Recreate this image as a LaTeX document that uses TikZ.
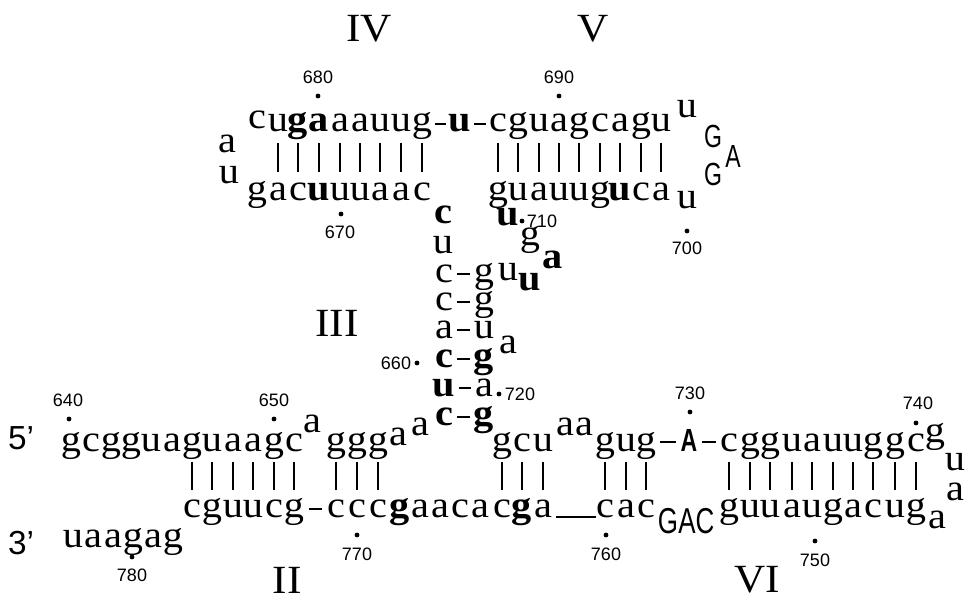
\documentclass[tikz,border=0pt]{standalone}
\usepackage{fontspec}
\setmainfont[FakeStretch=1.08]{Liberation Serif}
\newfontfamily\numfont{Liberation Sans}
\newfontfamily\condfont[FakeStretch=0.72]{Liberation Sans}
\usetikzlibrary{calc}
\tikzset{
  nt/.style={inner sep=0pt, anchor=base, font=\fontsize{28}{30}\selectfont},
  bt/.style={inner sep=0pt, anchor=base, font=\fontsize{28}{30}\selectfont\bfseries},
  capl/.style={inner sep=0pt, anchor=base, font=\fontsize{24}{26}\selectfont\condfont},
  capbig/.style={inner sep=0pt, anchor=base, font=\fontsize{27}{29}\selectfont\condfont},
  num/.style={inner sep=0pt, font=\fontsize{13.5}{15}\selectfont\numfont},
  endlabel/.style={inner sep=0pt, font=\fontsize{25}{27}\selectfont\numfont},
  roman/.style={inner sep=0pt, font=\fontsize{30}{34}\selectfont},
  posdot/.style={circle, fill=black, inner sep=0pt, minimum size=3.6pt},
  bar/.style={line width=0.9pt},
  pairdash/.style={line width=0.8pt},
  hyph/.style={line width=1.8pt},
}
\begin{document}
\begin{tikzpicture}[x=0.75pt, y=-0.75pt]
\useasboundingbox (0,0) rectangle (965,603);

% ---------- stem labels ----------
\node[roman] (IV) at (369,29) {IV};
\node[roman] (V) at (593,29) {V};
\node[roman] (III) at (337,323) {III};
\node[roman] (II) at (287,580) {II};
\node[roman] (VI) at (757,580) {VI};

% ---------- helix IV ----------
\node[nt] (a0) at (257,128) {c};
\foreach \x/\c [count=\i] in {278/u,298/{\bfseries g},319/{\bfseries a},340/a,360/a,380/u,401/u,422/g}
  \node[nt] (a\i) at (\x,131) {\c};
\node[nt] (b0) at (257,200) {g};
\foreach \x/\c [count=\i] in {278/a,298/c,319/{\bfseries u},340/u,360/u,380/a,401/a,422/c}
  \node[nt] (b\i) at (\x,200) {\c};
\foreach \i in {1,...,8}
  \draw[bar] ($(a\i.base)+(0,12)$) -- ($(b\i.base)+(0,-28)$);
\node[nt] (ll1) at (227,152) {a};
\node[nt] (ll2) at (229,183) {u};

% junction between IV and V
\node[bt] (um) at (460,131) {u};
\draw[hyph] ($(a8.base east)+(3,-7)$) -- ($(um.base west)+(-3,-7)$);

% ---------- helix V ----------
\foreach \x/\c [count=\i] in {498/c,518/g,539/u,559/a,579/g,600/c,620/a,641/g,661/u}
  \node[nt] (v\i) at (\x,131) {\c};
\foreach \x/\c [count=\i] in {498/g,518/u,539/a,559/u,579/u,600/g,620/{\bfseries u},641/c,661/a}
  \node[nt] (w\i) at (\x,200) {\c};
\foreach \i in {1,...,9}
  \draw[bar] ($(v\i.base)+(0,12)$) -- ($(w\i.base)+(0,-28)$);
\draw[hyph] ($(um.base east)+(3,-7)$) -- ($(v1.base west)+(-3,-7)$);

% hairpin loop of V
\node[nt] (lr1) at (687,117) {u};
\node[capl] (lr2) at (713,147) {G};
\node[capl] (lr3) at (733,167) {A};
\node[capl] (lr4) at (713,185) {G};
\node[nt] (lr5) at (687,208) {u};

% ---------- helix III ----------
\node[bt] (s0) at (443,223) {c};
\node[nt] (s1) at (443,253) {u};
\foreach \y/\l/\r [count=\i] in {282/c/g,310/c/g,338/a/u,367/{\bfseries c}/{\bfseries g},396/{\bfseries u}/a,425/{\bfseries c}/{\bfseries g}}{
  \node[nt] (L\i) at (444,\y) {\l};
  \node[nt] (R\i) at (484,\y) {\r};
  \draw[pairdash] ($(L\i.base east)+(4,-8)$) -- ($(R\i.base west)+(-4,-8)$);
}
\node[nt] (q5) at (508,280) {u};
\node[bt] (q4) at (530,290) {u};
\node[bt] (q3) at (553,268) {a};
\node[nt] (q2) at (530,245) {g};
\node[bt] (q1) at (508,225) {u};
\node[nt] (q6) at (508,353) {a};

% ---------- helices II and VI: upper strand ----------
\foreach \x/\c [count=\i] in {71/g,91/c,111/g,131/g,151/u,172/a}
  \node[nt] (e\i) at (\x,451) {\c};
\foreach \x/\c [count=\i] in {192/g,212/u,233/a,253/a,274/g,294/c,336/g,357/g,378/g,502/g,522/c,543/u,605/g,626/u,646/g,729/c,750/g,770/g,792/u,812/a,833/u,853/u,873/g,895/g,916/c}
  \node[nt] (p\i) at (\x,451) {\c};
\node[nt] (ea) at (312,432) {a};
\node[nt] (ex1) at (398,445) {a};
\node[nt] (ex2) at (420,435) {a};
\node[nt] (ey1) at (565,435) {a};
\node[nt] (ey2) at (584,435) {a};
\node[capl, font=\fontsize{24}{26}\selectfont\condfont\bfseries] (bA) at (689,451) {A};
\draw[pairdash] ($(p15.base east)+(4,-9)$) -- ($(bA.base west)+(-4,-9)$);
\draw[pairdash] ($(bA.base east)+(4,-9)$) -- ($(p16.base west)+(-4,-9)$);
% hairpin loop of VI
\node[nt] (lv1) at (935,442) {g};
\node[nt] (lv2) at (955,470) {u};
\node[nt] (lv3) at (955,500) {a};
\node[nt] (lv4) at (937,528) {a};

% ---------- lower strand ----------
\foreach \x/\c [count=\i] in {192/c,212/g,233/u,253/u,274/c,294/g,336/c,357/c,378/c,502/c,522/{\bfseries g},543/a,605/c,626/a,646/c,729/g,750/u,770/u,792/a,812/u,833/g,853/a,873/c,895/u,916/g}
  \node[nt] (f\i) at (\x,517) {\c};
\foreach \x/\c [count=\i] in {400/{\bfseries g},420/a,440/a,460/c,480/a}
  \node[nt] (fi\i) at (\x,517) {\c};
\foreach \i in {1,...,25}
  \draw[bar] ($(p\i.base)+(0,11)$) -- ($(f\i.base)+(0,-27)$);
\draw[pairdash] ($(f6.base east)+(5,-8)$) -- ($(f7.base west)+(-5,-8)$);
\draw[line width=1pt] ($(f12.base east)+(4,0)$) -- (f13.base west);
\node[capbig] (gac1) at (668,533) {G};
\node[capbig] (gac2) at (687,533) {A};
\node[capbig] (gac3) at (705,533) {C};
\foreach \x/\c [count=\i] in {73/u,93/a,113/a,133/g,153/a,173/g}
  \node[nt] (t\i) at (\x,547) {\c};

% ---------- strand ends ----------
\node[endlabel] (five) at (21,438) {5’};
\node[endlabel] (three) at (21,543) {3’};

% ---------- numbering ----------
\foreach \n/\nx/\ny/\dx/\dy in {680/318/77/318/96, 690/559/77/559/96, 670/340/232/341/214,
    700/687/248/687/231, 710/542/221/522/221, 660/396/363/417/363, 720/520/394/499/394,
    640/68/400/69/419, 650/274/400/274/419, 730/690/393/690/412, 740/918/403/916/423,
    780/132/575/132/557, 770/357/554/357/535, 760/606/554/606/535, 750/815/560/815/541}{
  \node[num] (n\n) at (\nx,\ny) {\n};
  \node[posdot] (d\n) at (\dx,\dy) {};
}
\end{tikzpicture}
\end{document}
